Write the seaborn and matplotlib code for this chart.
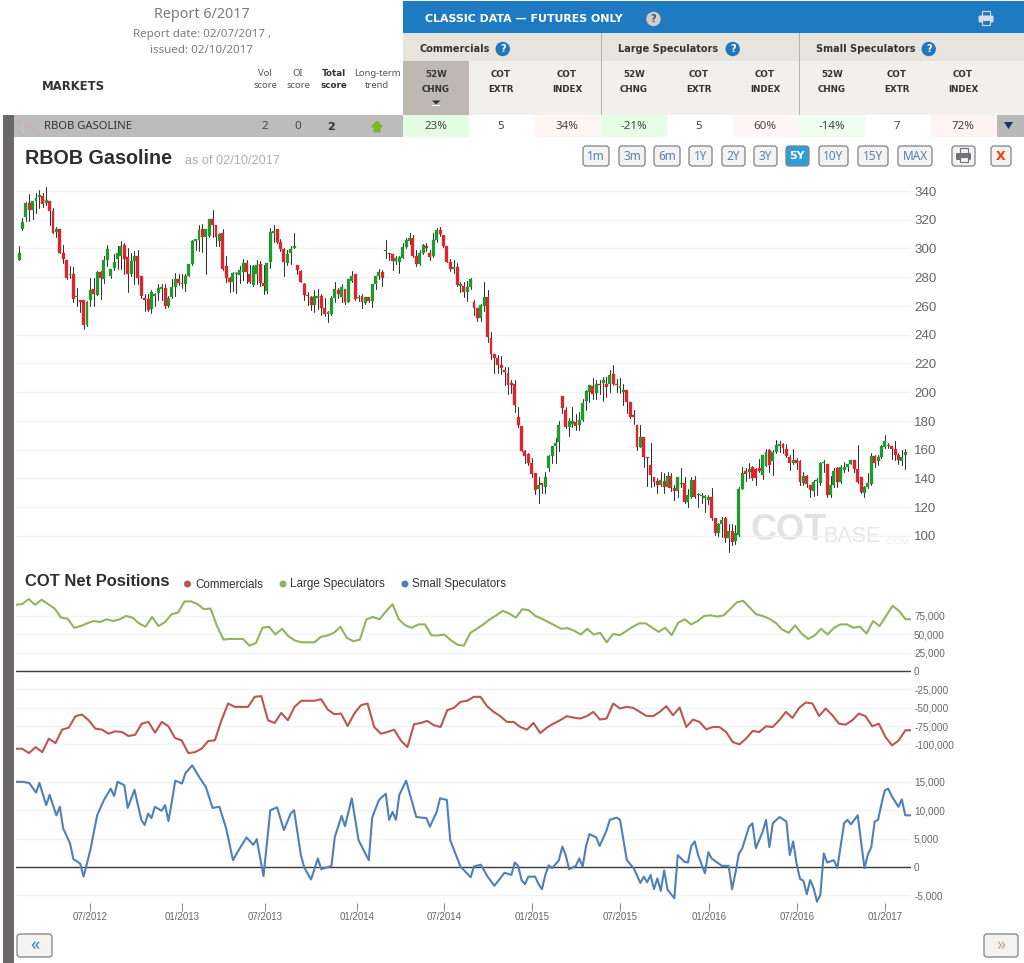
import numpy as np
import pandas as pd
import seaborn as sns
import matplotlib.pyplot as plt
from matplotlib.patches import Rectangle, FancyBboxPatch, Circle, Polygon

# weekly candles, RBOB gasoline
opens = [292.2,313.7,322,331.5,327,333,336,336.5,332,333,
         326,311.4,313.7,297,292,281.5,282,266,264,264.5,
         247,264,272,268,284,279,292,280.6,286.4,293,
         294.5,302.6,294,282,291.5,295,281,265.6,265,257.6,
         267,269,272,272.5,260,266,273,279,276,275,
         280.6,289,305,306,313.7,308,308.4,320.4,316.4,305,
         310.6,287.6,279.5,277,282,281.3,283.6,290,282,274.4,
         282,289,276,270.3,290.3,311,313.4,304.4,299.6,290,
         297,300.5,288.7,284.6,275,268,266,260.6,265.6,266.8,
         258.7,254.5,254.5,265.6,271,266.5,271.8,262.6,277.6,282.2,
         265.4,267.2,262,266,263.7,275.3,281,283.4,298,297.2,
         296,291,290.3,293.3,300.7,305.3,307.6,295,289,297.2,
         301.8,297.2,295,305.8,312.7,309.5,301.8,290.3,285.7,286.8,
         274.1,274,269.5,273,263,258.7,252,260.3,266,237.9,
         226.3,224,218.7,215.2,213.6,206,206,183,176.7,159.4,
         157,151,144,132.6,136.7,134.4,147,155.7,162.6,165.6,
         197.5,187.5,175.6,177.8,179.4,177,181,194,200.2,204.4,
         199.5,206,206.7,206,206,213,206,203.2,200.2,201.4,
         193.3,184,177,162,169,155,149.4,141.3,138.4,135.4,
         138.4,134.4,141.8,133.3,131,136.4,137,123.9,126.9,138.9,
         128.3,127.8,126.7,125,127.3,112.3,102,108.4,112.3,98.5,
         103.8,96.2,100.8,133,145.4,144.7,148,146.3,147,142.4,
         149,159.7,152.3,158.5,162.7,163.8,160.8,155,150.9,152.7,
         152,136.6,141.7,135.4,131.5,138,137,150.8,150,128.5,
         135.4,147,137.7,145.8,148,150.4,153.2,146.3,140.7,129.7,
         133.8,136,155.5,152,155,162,162.5,162.4,160.8,156.2,
         152,156.2]
closes = [296.8,318.3,332,326.8,333,335.4,337,331,333.8,326,
          311,313.7,297,293,279.5,282,265,267,263,247,
          263,271,268.5,284,279.5,292,300,286,290.6,297,
          301.4,293,282,291.5,295,279.5,267,264,257,270,
          268.4,272.5,273,260,265.6,273,279,276,275,280.6,
          289,305,306.7,313,308,313.4,320.4,316.4,307.7,310,
          286,279.5,277,283,283,285.3,290,283.6,277,287.6,
          288.7,276,273.7,290,311.8,312.3,304.4,299.6,290.3,296,
          300,301.4,285.3,276.7,268,267,260.6,266.8,267.3,258.7,
          254.5,255.7,265.6,272,268.4,273,262.6,278.8,281,264.9,
          266.5,262.6,266,263.3,275.3,281,283.4,279.4,298.2,296,
          291,293.3,293.8,301,305.8,307.6,295,289,297.2,302.5,
          300.2,293.8,305.8,312.7,310,301.8,290.3,285.7,286.8,274.8,
          275.3,270,273.4,278.8,258.7,252,261,266,238.3,226.3,
          224,218.7,217,214,204.9,205.3,191,177.1,159.4,155.7,
          150.6,143.2,132,135.6,135.6,141,155.7,162.6,165,177,
          188.7,176,180,180,176.4,180.6,192.6,201,204.9,199,
          206,204.9,208.3,203.7,211.8,206,204.9,204.2,201.4,193.3,
          183,183,162,168.6,154.7,154,142.5,137.8,135.4,139,
          134.4,141.8,133.3,131,141,136.7,123.9,128.5,138.9,126.9,
          128.5,128,126.9,126.9,112.3,102,108.4,111.2,98.5,103.8,
          95.5,102,133,144,143,146.3,140,140,145.4,156,
          158.5,149.3,158.5,163.1,163.8,161.3,155.5,150.9,152.7,150.9,
          137.7,141.7,136,132,137.7,138.2,151,151,128.5,135.4,
          145.4,137.7,148,148,150.4,153.2,146.3,137.7,130.8,133.8,
          137,155.5,150.9,155,162.4,166.1,162.7,160.8,156.2,152.7,
          155,158.5]
highs = [301.4,321.5,332,338,333,338.4,341,338.4,343,333,
         328,315,313.7,302.6,292,288,287,272.5,264.5,264.5,
         263.5,279.5,279.5,284,284,294.5,302.6,286,296,301.4,
         305,304,300,297,298.4,299,281,268.4,268.4,271.4,
         269,275,275,275.3,266.8,279,283,282,282,282,
         289.3,305.7,306.7,316.4,317,313.4,320.4,327,316.4,310.6,
         313.7,294.5,280,283.7,283.7,287.6,293,292,288.7,288.7,
         291.7,291,288.7,290,314.6,316.4,313.4,306.7,300,299,
         301.4,310.6,288.7,285.3,276,270,266.8,271.4,272,268,
         265.6,256.4,266.8,276.5,272.5,275.3,271.8,278.8,284.5,282.2,
         267.9,268,266.5,266.5,275.3,281,286,285,305.8,297.2,
         296,295,295,303.5,307,311,309.5,299,299,303,
         303.5,298.8,311,314.5,315,309.5,301.8,292.6,292,289.6,
         276.4,277,277.6,279.4,264.2,258.7,261.4,276.4,271,241.8,
         226.8,225.6,225,217.6,217.6,208.3,208.3,189.4,176.7,159.8,
         157.4,154,144,141.3,136.7,144.8,156.4,162.6,167.9,180,
         197.5,189.8,181.8,189.8,184.8,186.4,195.6,201.4,204.9,210,
         208.8,208.8,210.6,210.6,215.2,219,209.5,210,206,201.8,
         193.3,187.5,177,177,169,155.3,165,141.3,140,144.8,
         144,144.8,143.6,135.6,141,147.4,141.2,133,141.2,141.7,
         129.7,130,128.5,128.5,133.6,112.3,108.8,113,113,108.4,
         108.4,107.7,134.3,148,147,151,148.8,147,153.9,156.2,
         160.8,160.8,159.7,166.6,166,164.8,164.3,156.2,160.8,154.6,
         152.7,144.7,142.4,135.4,138.9,140,151.6,152.7,150.4,141.7,
         147,148,149.3,151.6,150.4,153.2,153.2,163,140.7,134.7,
         143.5,157.4,156.2,156.2,163,170.5,164.8,162.4,166.1,157.8,
         159.7,160.8]
lows = [292,313,319,319,320.6,325,328,329,330,316,
        310.7,308,297,290,279,279.5,263,260,256,244,
        246,260,260,267.8,265,276,287.6,279.5,285,286,
        286,282,270,280.6,275,275,265.6,256.4,256.4,255,
        260,264.5,264.5,258.7,259,265.6,267,274.4,272.5,270.7,
        280.6,288.6,299,298,297.5,282.3,308,308,301.4,301.4,
        285,277,270,270.3,269,276,278,276,276,273.7,
        275,273.7,268.4,269,286.4,304.4,303.7,298,281,288.7,
        289.4,300,282,276.7,264.5,260.6,257,256,257.6,253.6,
        253,249,253.6,263,265.6,262.6,261.4,262.6,277,264,
        263.7,258.7,261.4,262.6,259.6,271.8,278.8,274,293.3,292,
        285,289,283,293.3,300.2,303,294,288,288.7,296.5,
        298.4,292,294,304.8,308.8,301,290.3,284.5,282.7,274,
        270,266,263.7,271.8,254,249.4,249.4,256.8,235,223.3,
        213.4,213.4,213,204.9,199,199.5,186.4,175.5,159,150.6,
        149.4,141.3,129.3,123,129.8,129.8,145.5,151,151,159.4,
        185.7,174.9,169.6,176,173.7,173.7,180,187.5,193.3,195.6,
        195,199,194,196.8,200.2,204.9,200,199.5,191,185.7,
        181.8,178,160,161.6,147.8,135,134.4,135,130,134.8,
        130,134,131,124.7,127,134.3,122.7,120,126.2,126.2,
        120,122.7,117,122.3,111.2,100.8,100,99,96,89.2,
        94,94.6,100,132.4,138.4,140,139.3,135.4,144.7,139.4,
        149,144.7,142.4,158,158.5,157.4,155,145.8,150.4,146.3,
        135.4,135.4,133.8,127.3,127.8,128.5,135.4,144.7,126.9,127.3,
        133.8,133.8,136.6,144.7,145.4,150,144.7,136.6,129.7,126.9,
        133.5,135.4,148,149.3,154.6,161.5,161.5,153.9,152.7,150.4,
        149.3,146.3]

price_ticks = [100, 120, 140, 160, 180, 200, 220, 240, 260, 280, 300, 320, 340]

# net positions, thousands of contracts
large_spec = [90.2,91.1,98,90.2,97.1,91.1,85.1,72.7,71.3,58.9,61.2,64.9,68.1,66.7,70.4,68.1,70.4,75,72.7,64.9,
              60.3,73.6,61.2,66.7,77.3,79.6,94.8,94.8,91.1,84.2,85.1,61.2,42.8,43.7,43.7,43.7,34.5,38.2,58.9,60.3,
              49.7,57.5,47.4,41.4,39.1,39.1,39.1,46.5,48.3,52,60.3,45.1,40.5,42.8,70.4,73.6,70.4,81,91.1,70.4,
              62.1,58.9,63.5,63.5,48.8,48.3,49.7,41.9,35.9,34.5,52,57.5,63.5,70.4,
              75.9,81.9,78.2,72.7,84.2,82.8,75,71.3,66.7,62.1,57.5,58.4,54.8,49.7,57.5,49.7,52,39.1,50.6,48.8,
              54.3,60.3,64.9,64.9,58.9,53.4,58.9,48.8,65.8,70.4,63.5,68.1,75,75.9,74.1,75.9,84.2,93.4,95.7,86.5,
              77.3,75,71.3,65.8,56.6,52,62.1,51.1,43.7,48.3,57.5,49.7,58.9,63.5,63.5,58.9,60.3,51.1,68.1,61.2,
              75,88.8,81.9,70.4,70.4]
commercials = [-105.9,-105.9,-111.9,-103.7,-110.5,-92.2,-98.2,-79.9,-77.2,-61.6,-59.4,-67.1,-78.5,-79.9,-85.4,-82.2,-83.1,-88.6,-86.8,-71.7,
               -69.4,-84,-69.4,-75.3,-91.3,-94.5,-111.9,-110.5,-105.9,-95.4,-94.5,-67.1,-44.3,-48.9,-48.9,-48.9,-35.2,-34.2,-67.1,-70.8,
               -57.1,-67.1,-48.9,-40.6,-40.6,-40.6,-38.4,-52.5,-58.9,-58,-74.9,-58,-46.6,-44.3,-76.3,-85.4,-83.1,-79.9,-94.5,-103.7,
               -72.6,-70.8,-68,-74,-76.3,-53.4,-50.2,-42,-40.6,-35.2,-35.2,-47.9,-55.7,-61.6,-69.4,
               -69.4,-76.3,-79.9,-70.8,-84.5,-77.2,-71.7,-67.1,-61.6,-63.5,-64.8,-61.6,-55.7,-66.2,-64.8,-44.3,-51.1,-48.9,-50.2,-55.7,
               -61.2,-61.6,-55.7,-47.9,-60.3,-49.8,-76.3,-66.2,-69.4,-79.5,-76.3,-76.3,-83.1,-96.8,-100,-92.2,-81.7,-83.1,-75.3,-76.3,
               -67.1,-55.7,-63.9,-50.2,-42.9,-44.3,-61.2,-51.1,-60.3,-71.7,-73.1,-67.1,-58,-61.6,-75.3,-71.7,-90,-101.4,-94.5,-80.8,-80.8]
small_weeks = [-1,1,3,5,6,8,9,11,12,13,15,16,18,19,21,23,25,27,28,29,31,32,34,36,37,38,39,40,42,43,44,45,46,48,49,51,53,55,57,59,
               61,63,65,67,69,70,72,74,76,78,80,81,83,84,86,88,89,92,93,95,96,98,100,103,104,106,108,109,110,111,112,114,117,120,121,123,124,126,127,130,
               133,134,136,138,140,143,145,
               146,147,148,149,150,152,153,154,155,156,157,159,160,161,162,164,165,166,167,168,170,171,173,174,176,177,178,179,181,183,184,185,186,187,
               188,189,190,191,193,194,196,197,198,199,200,202,203,204,207,209,210,211,212,213,215,216,217,219,220,221,222,224,226,227,228,229,230,231,232,
               233,234,235,236,237,238,240,241,243,244,245,247,248,249,250,251,252,253,254,255,256,257,259,260,261,263]
small_spec = [15,15,14.8,13.1,14.8,10.9,12.7,9.1,10.6,6.8,4.2,1.4,0.6,-1.7,3,9.1,11.8,13.8,12.5,15,14.4,10.4,13.6,8.3,7.4,9.4,8.6,10.6,9.9,10.9,8.1,11.5,15.2,14.7,16.5,17.9,15.9,14.1,10.4,10.6,
              6.8,1.2,3.3,5.2,3.9,4.9,-1.6,10,10.5,6.5,9.4,10,2.1,-0.1,-2.2,1.5,-0.4,0.2,5.3,9,7.2,12.1,4.7,1.2,8.7,11.8,12.9,8.3,9.7,8.3,12.7,15.2,8.8,8.6,7.1,9.7,12.1,11.8,4.7,0.1,
              -1.8,0.1,0.4,-1.7,-3.3,-1,-1.4,
              0.8,0.2,-2.3,-3,-1.7,-1.7,-3,-3.9,-1.4,0.3,-0.2,1.2,3.6,2.1,-0.4,0.2,1.5,0.1,3.7,5.8,5.2,3.7,6.4,8.3,8.7,8.3,4.7,1.2,-0.2,-2.8,-1.7,-2.7,-1.4,-3.9,
              -2,-4.2,-0.6,-4,-5.5,2.1,0.9,0.8,3.7,4.5,2.1,-1.1,2.6,1.5,0.2,0.2,-3.9,-1,2.3,3.3,7.1,7.7,3.3,6.2,8.3,3.5,7.7,8.8,8,2.1,4.5,0.6,-2.1,-2.4,-4.8,
              -2.3,-3.7,-6.1,-4.9,2.4,0.8,1.2,-0.2,7.7,8.3,7.5,9.1,4.5,-0.2,2.2,3.5,8,8.3,11.1,13.5,13.8,12.5,10.6,11.9,9.1,9.1]

cot_upper_ticks = [75000, 50000, 25000, 0, -25000, -50000, -75000, -100000]
cot_lower_ticks = [15000, 10000, 5000, 0, -5000]
month_weeks = [20.9, 47.9, 72.5, 99.6, 125.2, 151.1, 177, 203.2, 229.2, 255]
month_labels = ['07/2012', '01/2013', '07/2013', '01/2014', '07/2014',
                '01/2015', '07/2015', '01/2016', '07/2016', '01/2017']

W, H = 1024, 963
CANDLE_UP = '#1f9a2c'
CANDLE_DOWN = '#e2232a'
COMM_COL = '#bc5652'
LARGE_COL = '#94b35e'
SMALL_COL = '#4f80b8'
GRID = '#f2f2f2'
LABEL = '#666666'

sns.set_theme(style='white')
plt.rcParams['font.family'] = ['Liberation Sans', 'DejaVu Sans']

fig = plt.figure(figsize=(W / 100, H / 100), dpi=100)


def px_axes(left, top, right, bottom):
    return fig.add_axes([left / W, 1 - bottom / H, (right - left) / W, (bottom - top) / H])


# page furniture in pixel coordinates
bg = px_axes(0, 0, W, H)
bg.set_xlim(0, W)
bg.set_ylim(H, 0)
bg.axis('off')


def box(x0, y0, x1, y1, col):
    bg.add_patch(Rectangle((x0, y0), x1 - x0, y1 - y0, fc=col, ec='none', zorder=1))


def txt(x, y, s, size=8, col='#333333', ha='center', weight='normal', fam='Noto Sans', **kw):
    if weight == 'bold' and fam == 'Noto Sans':
        fam = 'DejaVu Sans'  # Noto Sans comes without a bold face here
    bg.text(x, y, s, fontsize=size, color=col, ha=ha, va='center', fontweight=weight, family=fam, zorder=5, **kw)


def button(x0, y0, x1, y1, s, col='#4f82b8', fc='#f4f3f0', size=8.5, weight='normal'):
    bg.add_patch(FancyBboxPatch((x0 + 2, y0 + 2), x1 - x0 - 4, y1 - y0 - 4, boxstyle='round,pad=2,rounding_size=3',
                                fc=fc, ec='#7d8088', lw=0.9, zorder=3))
    txt((x0 + x1) / 2, (y0 + y1) / 2, s, size=size, col=col, weight=weight)


def help_icon(x, y, col='#1f78bd', r=7.2):
    bg.add_patch(Circle((x, y), r, fc=col, ec='none', zorder=4))
    txt(x, y - 0.3, '?', size=7, col='white' if col != '#cfcdc6' else '#555555', weight='bold')


def printer(x, y, body, paper):
    bg.add_patch(Rectangle((x - 4, y - 8), 8, 6, fc=paper, ec=body, lw=0.8, zorder=4))
    bg.add_patch(FancyBboxPatch((x - 7, y - 3), 14, 6, boxstyle='round,pad=0.5,rounding_size=1.5', fc=body, ec='none', zorder=4))
    bg.add_patch(Rectangle((x - 4, y + 1), 8, 5, fc=paper, ec=body, lw=0.8, zorder=5))


box(3, 115, 14, H, '#6b686a')
box(403, 1, W, 33, '#1f7bc1')
box(403, 33, W, 61, '#e7e4de')
box(403, 61, W, 115, '#f2f0ec')
box(403, 61, 469, 115, '#bdb9b2')
box(601, 33, 602, 115, '#b5b3ae')
box(799, 33, 800, 115, '#b5b3ae')
box(14, 115, 403, 137, '#bcbcbc')
box(403, 115, 469, 137, '#e2fde2')
box(535, 115, 601, 137, '#fff5f5')
box(601, 115, 667, 137, '#e4fde4')
box(733, 115, 799, 137, '#fff7f7')
box(799, 115, 865, 137, '#efffef')
box(931, 115, 997, 137, '#fff3f3')
box(997, 115, W, 137, '#b8b8b8')

txt(202, 15, 'Report 6/2017', size=10.3, col='#7b7b7b')
txt(202, 34.5, 'Report date: 02/07/2017 ,', size=8.3, col='#7b7b7b')
txt(202, 50.5, 'issued: 02/10/2017', size=8.3, col='#7b7b7b')
txt(42, 86, 'MARKETS', size=8.4, col='#333333', ha='left', weight='bold')
txt(265, 74, 'Vol', size=6.8, col='#555555')
txt(265, 85, 'score', size=6.8, col='#555555')
txt(298, 74, 'OI', size=6.8, col='#555555')
txt(298, 85, 'score', size=6.8, col='#555555')
txt(334, 74, 'Total', size=6.3, weight='bold')
txt(334, 85, 'score', size=6.3, weight='bold')
txt(377, 74, 'Long-term', size=6.8, col='#555555')
txt(377, 85, 'trend', size=6.8, col='#555555')

txt(425, 18.5, 'CLASSIC DATA — FUTURES ONLY', size=7.9, col='white', ha='left', weight='bold')
help_icon(653.5, 19, '#cfcdc6')
printer(986, 19, '#d9dde3', '#1f7bc1')
txt(419, 49, 'Commercials', size=7, ha='left', weight='bold')
help_icon(502.7, 49)
txt(618, 49, 'Large Speculators', size=7, ha='left', weight='bold')
help_icon(732.7, 49)
txt(816, 49, 'Small Speculators', size=7, ha='left', weight='bold')
help_icon(928.7, 49)

for cx in [436, 634, 832]:
    txt(cx, 74.5, '52W', size=6.3, weight='bold')
    txt(cx, 89.5, 'CHNG', size=6.3, weight='bold')
for cx in [501, 699, 897]:
    txt(cx, 74.5, 'COT', size=6.3, weight='bold')
    txt(cx, 89.5, 'EXTR', size=6.3, weight='bold')
for cx in [567, 765, 963]:
    txt(cx, 74.5, 'COT', size=6.3, weight='bold')
    txt(cx, 89.5, 'INDEX', size=6.3, weight='bold')
box(432, 105, 440, 106.5, 'white')
bg.add_patch(Polygon([(432, 100.5), (440.5, 100.5), (436, 104.5)], fc='#333333', ec='none', zorder=5))

# one market row
bg.plot([23, 30, 37], [121, 127, 133], color='#e0a8a0', lw=0.8, zorder=3)
box(23, 121, 24, 134, '#c9c5c2')
txt(44, 126.5, 'RBOB GASOLINE', size=8.1, col='#333333', ha='left')
txt(265, 126.5, '2', size=8.3, col='#444444')
txt(298, 126.5, '0', size=8.3, col='#444444')
txt(331, 126.5, '2', size=8, weight='bold', col='#333333')
bg.add_patch(Polygon([(371.5, 127), (377, 121), (382.5, 127), (380, 127), (380, 132), (374, 132), (374, 127)],
                     fc='#7fba1e', ec='#6ba315', lw=0.4, zorder=5))
for cx, s in [(436, '23%'), (501, '5'), (567, '34%'), (634, '-21%'), (699, '5'),
              (765, '60%'), (832, '-14%'), (897, '7'), (963, '72%')]:
    txt(cx, 126.5, s, size=8.3, col='#444444')
bg.add_patch(Polygon([(1004, 122), (1013, 122), (1008.5, 129)], fc='#17356b', ec='none', zorder=5))

# chart title bar
txt(25, 158, 'RBOB Gasoline', size=14.2, col='#2f2f2f', ha='left', weight='bold', fam='Liberation Sans')
txt(185, 160.5, 'as of 02/10/2017', size=9.2, col='#aeaeae', ha='left', fam='Liberation Sans')
for x0, x1, s in [(583, 609, '1m'), (619, 645, '3m'), (654, 680, '6m'), (689, 712, '1Y'), (722, 745, '2Y'),
                  (754, 777, '3Y'), (819, 848, '10Y'), (858, 888, '15Y'), (898, 932, 'MAX')]:
    button(x0, 146, x1, 166, s)
button(786, 146, 809, 166, '5Y', col='white', fc='#2e9ed6', size=8, weight='bold')
button(952, 146, 975, 166, '', fc='#f4f3f0')
printer(963.5, 156.5, '#6f7276', '#f4f3f0')
button(991, 146, 1011, 166, 'X', col='#f2390f', size=9, weight='bold')

# watermark
txt(751, 531, 'COT', size=26, col='#e2e2e2', ha='left', weight='bold', fam='Liberation Sans')
txt(823, 537, 'BASE', size=15.5, col='#e6e6e6', ha='left', fam='Liberation Sans')
txt(884, 541.5, '.COM', size=6.8, col='#ececec', ha='left', fam='Liberation Sans')

# COT heading and legend
txt(25, 581, 'COT Net Positions', size=11.9, col='#2f2f2f', ha='left', weight='bold', fam='Liberation Sans')
for dot_x, col, label in [(187.5, COMM_COL, 'Commercials'), (283, LARGE_COL, 'Large Speculators'),
                          (405, SMALL_COL, 'Small Speculators')]:
    bg.add_patch(Circle((dot_x, 584), 3.5, fc=col, ec='none', zorder=4))
    txt(dot_x + 7.5, 584.5, label, size=8.4, col='#333333', ha='left', fam='Liberation Sans')

button(17, 934, 52, 957, '«', col='#2f7fc4', size=13)
button(984, 934, 1018, 957, '»', col='#b8a898', size=13)

# price candles
week = np.arange(len(opens))
week_lim = (-0.9, 262.7)
opens_a, closes_a = np.array(opens, dtype=float), np.array(closes, dtype=float)
wick_df = pd.DataFrame({'candle': np.tile(week, 2), 'price': highs + lows})
wick_df['week'] = wick_df['candle']

ax_price = px_axes(16, 185, 911, 560)
ax_price.patch.set_alpha(0)
ax_price.set_ylim(100 + (536 - 560) / 1.4375, 100 + (536 - 185) / 1.4375)
ax_price.set_yticks(price_ticks)
ax_price.grid(axis='y', color=GRID, lw=1)
ax_price.set_axisbelow(True)
sns.lineplot(data=wick_df, x='week', y='price', units='candle', estimator=None, errorbar=None,
             color='#333333', lw=0.75, ax=ax_price)
ups = closes_a >= opens_a
body_low = np.minimum(opens_a, closes_a)
body_height = np.maximum(np.abs(closes_a - opens_a), 0.8)
ax_price.bar(week, body_height, bottom=body_low, width=0.86, zorder=3,
             color=[CANDLE_UP if u else CANDLE_DOWN for u in ups],
             edgecolor=[CANDLE_UP if u else CANDLE_DOWN for u in ups], lw=0.2)
ax_price.set_xlim(*week_lim)

# commercials and large speculators share a scale
upper_df = pd.concat([
    pd.DataFrame({'week': np.linspace(-1, 263, len(large_spec)), 'net': np.array(large_spec) * 1000, 'group': 'Large Speculators'}),
    pd.DataFrame({'week': np.linspace(-1, 263, len(commercials)), 'net': np.array(commercials) * 1000, 'group': 'Commercials'}),
])
ax_upper = px_axes(16, 595, 911, 760)
ax_upper.patch.set_alpha(0)
ax_upper.set_ylim((671 - 760) * 25000 / 18.35, (671 - 595) * 25000 / 18.35)
ax_upper.set_yticks(cot_upper_ticks)
ax_upper.grid(axis='y', color=GRID, lw=1)
ax_upper.set_axisbelow(True)
ax_upper.axhline(0, color='#3c3c3c', lw=1, zorder=1.5)
sns.lineplot(data=upper_df, x='week', y='net', hue='group', estimator=None, errorbar=None, sort=False,
             palette={'Large Speculators': LARGE_COL, 'Commercials': COMM_COL}, lw=1.5, legend=False, ax=ax_upper)
ax_upper.set_xlim(*week_lim)

# small speculators on their own scale
lower_df = pd.DataFrame({'week': small_weeks, 'net': np.array(small_spec) * 1000})
ax_lower = px_axes(16, 760, 911, 911)
ax_lower.patch.set_alpha(0)
ax_lower.set_ylim((867 - 911) * 5000 / 28.4, (867 - 760) * 5000 / 28.4)
ax_lower.set_yticks(cot_lower_ticks)
ax_lower.grid(axis='y', color=GRID, lw=1)
ax_lower.set_axisbelow(True)
ax_lower.axhline(0, color='#3c3c3c', lw=1, zorder=1.5)
sns.lineplot(data=lower_df, x='week', y='net', estimator=None, errorbar=None, color=SMALL_COL, lw=1.5, ax=ax_lower)
ax_lower.set_xlim(*week_lim)

for ax in [ax_price, ax_upper, ax_lower]:
    sns.despine(ax=ax, left=True, bottom=True, top=True, right=True)
    ax.set_xlabel('')
    ax.set_ylabel('')
    ax.yaxis.tick_right()
    ax.tick_params(axis='y', length=0, pad=2.2, labelcolor=LABEL)

ax_price.set_xticks([])
ax_price.tick_params(axis='y', labelsize=9.6)
ax_upper.set_xticks([])
ax_upper.set_yticks(cot_upper_ticks, [f'{v:,}' for v in cot_upper_ticks])
ax_upper.tick_params(axis='y', labelsize=7.2)
ax_lower.set_yticks(cot_lower_ticks, [f'{v:,}' for v in cot_lower_ticks])
ax_lower.tick_params(axis='y', labelsize=7.2)
ax_lower.set_xticks(month_weeks, month_labels)
ax_lower.tick_params(axis='x', direction='in', length=5.8, width=0.7, color='#888888', bottom=True,
                     labelsize=7, labelcolor=LABEL, pad=1)

fig.savefig('out.png', dpi=100)
